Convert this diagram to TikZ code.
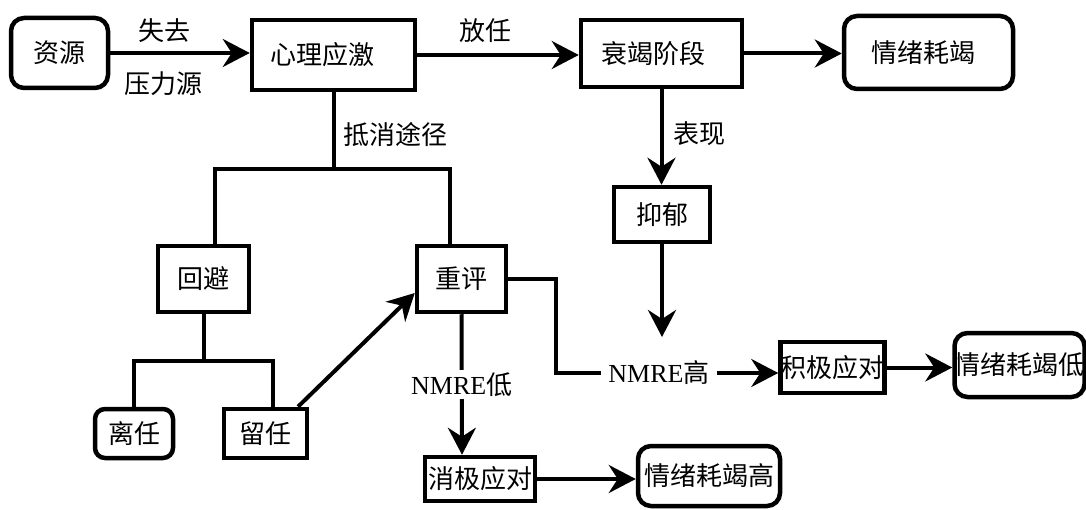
\documentclass[tikz,border=0pt]{standalone}
\usepackage{fontspec}
\setmainfont{Liberation Serif}
\newfontfamily\cjk{Noto Sans CJK SC}
\usetikzlibrary{arrows.meta}
\begin{document}
\begin{tikzpicture}[x=1pt,y=-1pt,
  box/.style={draw, line width=4.5pt, inner sep=0pt, font=\cjk\fontsize{26}{30}\selectfont, align=center},
  rbox/.style={box, rounded corners=13pt},
  lbl/.style={font=\cjk\fontsize{26}{30}\selectfont, inner sep=0pt},
  ln/.style={line width=4pt},
  arr/.style={ln, -{Stealth[length=27pt,width=28pt,inset=9pt]}},
]
\useasboundingbox (0,0) rectangle (1086,510);

% boxes
\node[rbox, minimum width=97pt, minimum height=70pt] (zy) at (59.5,53) {资源};
\node[box, minimum width=163pt, minimum height=70pt] (xl) at (333.5,55) {心理应激\hspace*{22pt}};
\node[box, minimum width=161pt, minimum height=67pt] (sj) at (661.5,53.5) {衰竭阶段\hspace*{16pt}};
\node[rbox, minimum width=169pt, minimum height=73pt] (qh) at (928.5,52.5) {情绪耗竭\hspace*{10pt}};
\node[box, minimum width=96pt, minimum height=55pt] (yy) at (662,214.5) {抑郁};
\node[box, minimum width=91pt, minimum height=66pt] (hb) at (203.5,279) {回避};
\node[box, minimum width=89pt, minimum height=66pt] (cp) at (461.5,279) {重评};
\node[rbox, rounded corners=10pt, minimum width=78pt, minimum height=49pt] (lr) at (134,433.5) {离任};
\node[box, minimum width=83pt, minimum height=49pt] (lv) at (265.5,433.5) {留任};
\node[box, minimum width=110pt, minimum height=44pt] (xj) at (480,479) {消极应对};
\node[rbox, minimum width=142pt, minimum height=60pt] (qg) at (709,476) {情绪耗竭高};
\node[box, minimum width=103pt, minimum height=51pt] (jj) at (832.5,367.5) {积极应对};
\node[rbox, minimum width=127pt, minimum height=64pt] (qd) at (1019.5,365) {情绪耗竭低};

% labels
\node[lbl] (l1) at (164,31) {失去};
\node[lbl] (l2) at (163.5,84) {压力源};
\node[lbl] (l3) at (485,31) {放任};
\node[lbl] (l4) at (699,134) {表现};
\node[lbl] (l5) at (395,135) {抵消途径};
\node[lbl, inner xsep=7pt] (nh) at (659,373) {{\rmfamily NMRE}高};

% connectors
\draw[arr] (zy.east) -- (zy.east -| xl.west);
\draw[arr] (xl.east) -- (xl.east -| sj.west);
\draw[arr] (sj.east) -- (sj.east -| qh.west);
\draw[arr] (sj.south) -- (sj.south |- yy.north);
\coordinate (ntop) at (662,337);
\draw[arr] (yy.south) -- (ntop);

\coordinate (j1) at (333.5,169);
\draw[ln] (xl.south) -- (j1);
\draw[ln] ([xshift=11.5pt]hb.north) |- (j1) -| ([xshift=-11.5pt]cp.north);

\coordinate (j2) at (203.5,361);
\draw[ln] (hb.south) -- (j2);
\draw[ln] (lr.north) |- (j2) -| ([xshift=7.5pt]lv.north);
\draw[arr] ([xshift=32.5pt]lv.north) -- ([yshift=-14pt]cp.west);

\draw[arr] (cp.south) -- node[lbl, fill=white, inner sep=3pt] (nl) {{\rmfamily NMRE}低} ([xshift=-18pt]xj.north);
\draw[arr] (xj.east) -- (xj.east -| qg.west);

\coordinate (j3) at (556,279);
\draw[ln] (cp.east) -- (j3) |- (nh.west);
\draw[arr] (nh.east) -- (nh.east -| jj.west);
\draw[arr] (jj.east) -- (jj.east -| qd.west);
\end{tikzpicture}
\end{document}
